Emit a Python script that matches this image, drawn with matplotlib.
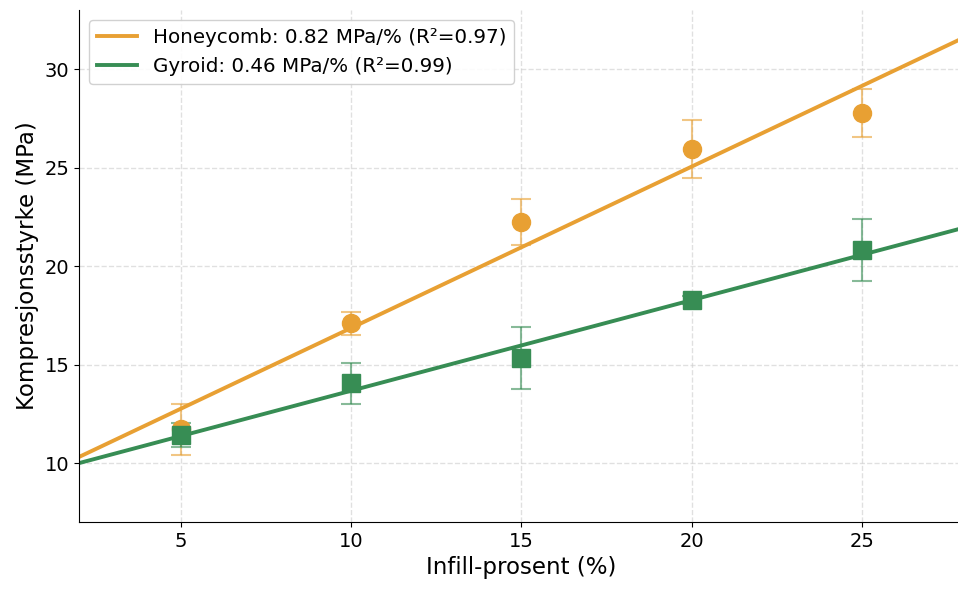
import numpy as np
import matplotlib
matplotlib.use('Agg')
import matplotlib.pyplot as plt

infill = [5, 10, 15, 20, 25]

honeycomb_mean = [11.72, 17.09, 22.25, 25.95, 27.76]
honeycomb_err = [1.3, 0.58, 1.17, 1.47, 1.22]
gyroid_mean = [11.42, 14.05, 15.32, 18.27, 20.8]
gyroid_err = [0.6, 1.05, 1.57, 0.2, 1.58]

labels = ['Honeycomb: 0.82 MPa/% (R²=0.97)', 'Gyroid: 0.46 MPa/% (R²=0.99)']
colors = ['#E8A033', '#378D54']

fig, ax = plt.subplots(figsize=(9.58, 5.9), dpi=100)

x_line = np.array([2, 28])
series = [(honeycomb_mean, honeycomb_err, 'o'), (gyroid_mean, gyroid_err, 's')]
for (mean, err, marker), label, color in zip(series, labels, colors):
    ax.errorbar(infill, mean, yerr=err, fmt='none', ecolor=color, alpha=0.6,
                elinewidth=1.5, capsize=7, capthick=1.5, zorder=2)
    ax.plot(infill, mean, marker, color=color, markersize=13, zorder=3)
    slope, intercept = np.polyfit(infill, mean, 1)
    ax.plot(x_line, slope * x_line + intercept, color=color, linewidth=2.8,
            label=label, zorder=2.5)

ax.set_xlim(2, 28)
ax.set_ylim(7, 33)
ax.set_xticks([5, 10, 15, 20, 25])
ax.set_yticks([10, 15, 20, 25, 30])
ax.tick_params(labelsize=14)
ax.set_xlabel('Infill-prosent (%)', fontsize=16.5)
ax.set_ylabel('Kompresjonsstyrke (MPa)', fontsize=16.5)
ax.grid(True, linestyle='--', color='#cccccc', alpha=0.6, linewidth=1)
ax.spines['top'].set_visible(False)
ax.spines['right'].set_visible(False)
ax.legend(loc='upper left', fontsize=14.3, framealpha=0.9)

# the reference is cropped slightly on the right
plt.subplots_adjust(left=0.0825, right=1.006, top=0.983, bottom=0.115)
plt.savefig('out.png', dpi=100)
